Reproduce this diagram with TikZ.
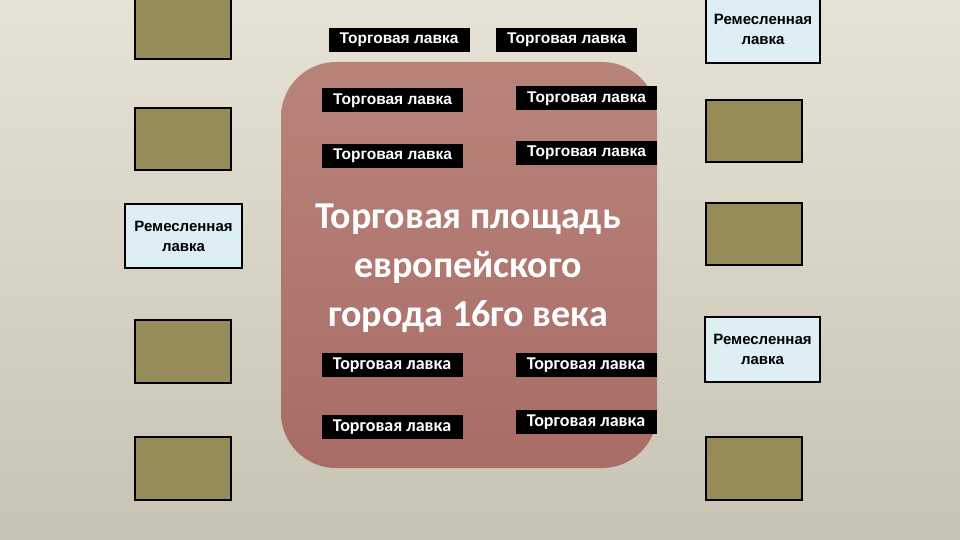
\documentclass[tikz,border=0pt]{standalone}
\usepackage{fontspec}
\setmainfont{Liberation Sans}
\newfontfamily\calibri{Carlito}
\definecolor{bgtop}{HTML}{E6E2D6}
\definecolor{bgbottom}{HTML}{C8C4B3}
\definecolor{plotolive}{HTML}{958C59}
\definecolor{craftblue}{HTML}{DDEEF5}
\definecolor{squaretop}{HTML}{B8847A}
\definecolor{squarebottom}{HTML}{A96C67}
\tikzset{
	plot/.style={draw=black, line width=2.5pt, fill=plotolive},
	craft/.style={draw=black, line width=2.5pt, fill=craftblue, align=center, inner sep=0pt, font=\bfseries\fontsize{15}{20}\selectfont},
	shop/.style={fill=black, text=white, minimum width=141pt, minimum height=24pt, inner sep=0pt, font=\bfseries\fontsize{15.5}{15}\selectfont},
	lowshop/.style={shop, font=\calibri\bfseries\fontsize{18}{18}\selectfont},
}

\begin{document}
\begin{tikzpicture}[x=1pt, y=-1pt]
			%%%%% START %%%%%
			\useasboundingbox (0, 0) rectangle (960, 540);
			\clip (0, 0) rectangle (960, 540);
			\shade[top color=bgtop, bottom color=bgbottom] (0, 0) rectangle (960, 540);
			
			% market square
			\shade[top color=squaretop, bottom color=squarebottom, rounded corners=55pt] (281, 62) rectangle (657, 468);
			
			% empty plots, left
			\draw[plot] (135, -10) rectangle (231, 59);
			\draw[plot] (135, 108) rectangle (231, 170);
			\draw[plot] (135, 320) rectangle (231, 383);
			\draw[plot] (135, 437) rectangle (231, 500);
			
			% empty plots, right
			\draw[plot] (706, 100) rectangle (802, 162);
			\draw[plot] (706, 203) rectangle (802, 265);
			\draw[plot] (706, 437) rectangle (802, 500);
			
			% craft shops
			\node[craft, minimum width=117pt, minimum height=64pt] (craftleft) at (183.5, 236) {Ремесленная\\лавка};
			\node[craft, minimum width=114pt, minimum height=68pt] (crafttop) at (763, 29) {Ремесленная\\лавка};
			\node[craft, minimum width=115pt, minimum height=65pt] (craftright) at (762.5, 349.5) {Ремесленная\\лавка};
			
			% trade shops
			\node[shop] (shopa) at (399, 40) {Торговая лавка};
			\node[shop] (shopb) at (566.5, 40) {Торговая лавка};
			\node[shop] (shopc) at (392.5, 100.5) {Торговая лавка};
			\node[shop] (shopd) at (586.5, 98.5) {Торговая лавка};
			\node[shop] (shope) at (392.5, 156) {Торговая лавка};
			\node[shop] (shopf) at (586.5, 153) {Торговая лавка};
			
			\node[lowshop] (shopg) at (392, 365) {Торговая лавка};
			\node[lowshop] (shoph) at (586, 365) {Торговая лавка};
			\node[lowshop] (shopi) at (392, 427) {Торговая лавка};
			\node[lowshop] (shopj) at (586, 422) {Торговая лавка};
			
			% title
			\node[text=white, align=center, font=\calibri\bfseries\fontsize{38}{49}\selectfont] (title) at (468, 268) {Торговая площадь\\европейского\\города 16го века};
			%%%%% END %%%%%
		\end{tikzpicture}
\end{document}
